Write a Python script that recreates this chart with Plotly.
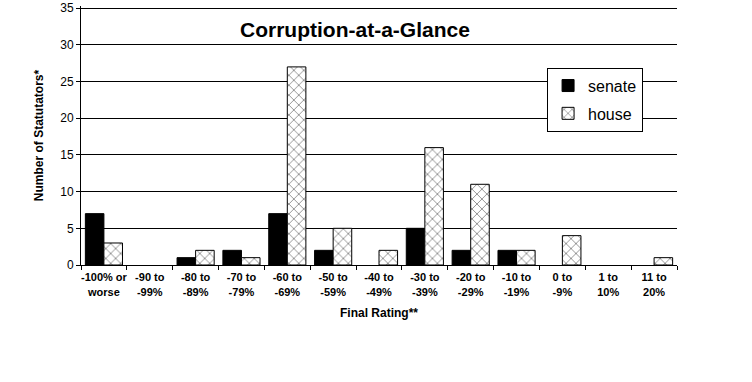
import plotly.graph_objects as go

categories = ["-100% or<br>worse", "-90 to<br>-99%", "-80 to<br>-89%", "-70 to<br>-79%",
              "-60 to<br>-69%", "-50 to<br>-59%", "-40 to<br>-49%", "-30 to<br>-39%",
              "-20 to<br>-29%", "-10 to<br>-19%", "0 to<br>-9%", "1 to<br>10%", "11 to<br>20%"]
senate = [7, 0, 1, 2, 7, 2, 0, 5, 2, 2, 0, 0, 0]
house = [3, 0, 2, 1, 27, 5, 2, 16, 11, 2, 4, 0, 1]
y_ticks = [0, 5, 10, 15, 20, 25, 30, 35]

FONT = "Arial, Liberation Sans, sans-serif"

fig = go.Figure()
fig.add_trace(go.Bar(x=categories, y=senate, name="senate", legendgroup="s",
                     marker=dict(color="black",
                                 line=dict(color="black", width=[1 if v else 0 for v in senate]))))
fig.add_trace(go.Bar(x=categories, y=house, name="house", legendgroup="h",
                     marker=dict(color="white",
                                 line=dict(color="black", width=[1 if v else 0 for v in house]),
                                 pattern=dict(shape="x", fgcolor="black", bgcolor="white",
                                              size=7, solidity=0.22))))

fig.update_layout(
    width=752, height=382,
    margin=dict(l=81, r=75, t=6, b=117, autoexpand=False),
    paper_bgcolor="white", plot_bgcolor="white",
    barmode="group", bargap=0.19, bargroupgap=0,
    font=dict(family=FONT, color="black"),
    showlegend=True,
    legend=dict(x=0.782, y=0.762, xanchor="left", yanchor="top",
                bgcolor="white", bordercolor="black", borderwidth=1,
                font=dict(size=16, family=FONT), tracegroupgap=4),
    annotations=[
        dict(text="<b>Corruption-at-a-Glance</b>", xref="paper", yref="paper",
             x=0.459, y=0.91, xanchor="center", yanchor="middle", showarrow=False,
             font=dict(size=21, family=FONT)),
    ],
)
fig.update_xaxes(showline=True, linecolor="black", linewidth=1, automargin=False,
                 ticks="outside", ticklen=4, tickcolor="black", tickson="boundaries",
                 tickangle=0, ticklabelstandoff=2,
                 tickfont=dict(size=11, family=FONT, weight="bold"),
                 title=dict(text="<b>Final Rating**</b>", font=dict(size=12, family=FONT), standoff=12),
                 showgrid=False)
fig.update_yaxes(range=[0, 35.3], tickmode="array", tickvals=y_ticks,
                 showline=True, linecolor="black", linewidth=1, automargin=False,
                 ticks="outside", ticklen=4, tickcolor="black", ticklabeloverflow="allow",
                 showgrid=True, gridcolor="black", gridwidth=1,
                 tickfont=dict(size=12, family=FONT),
                 title=dict(text="<b>Number of Statutators*</b>", font=dict(size=12, family=FONT), standoff=14),
                 zeroline=False)

fig.write_html("out.html", config={"displayModeBar": False},
               post_script="document.body.style.margin='0';")
